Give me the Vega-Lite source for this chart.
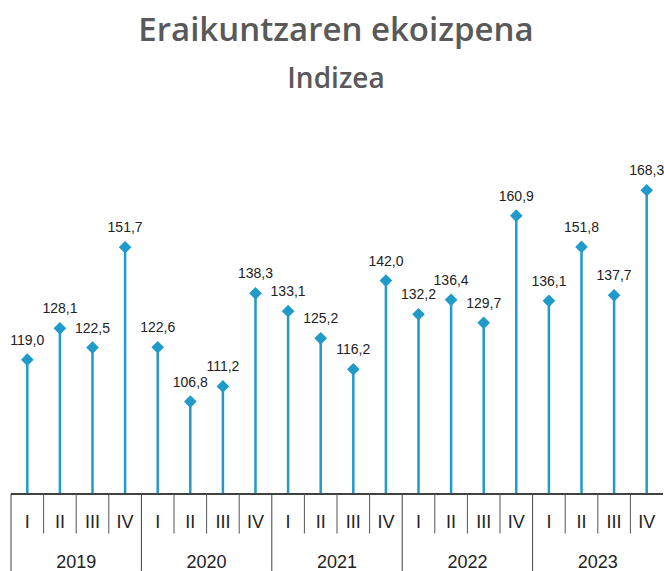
{
  "$schema": "https://vega.github.io/schema/vega-lite/v6.json",
  "width": 652,
  "height": 421,
  "autosize": {"type": "none"},
  "padding": {"left": 11, "top": 150, "right": 1, "bottom": 0},
  "config": {
    "view": {"stroke": null},
    "locale": {"number": {"decimal": ",", "thousands": ".", "grouping": [3], "currency": ["", " €"]}}
  },
  "title": {
    "text": "Eraikuntzaren ekoizpena",
    "subtitle": "Indizea",
    "anchor": "middle",
    "frame": "group",
    "font": "Open Sans",
    "fontSize": 33,
    "fontWeight": 600,
    "color": "#595959",
    "subtitleFont": "Open Sans",
    "subtitleFontSize": 28,
    "subtitleFontWeight": 600,
    "subtitleColor": "#595959",
    "subtitlePadding": 18,
    "offset": 56,
    "dx": -1
  },
  "data": {
    "values": [
      {"i": 0, "year": "2019", "q": "I", "value": 119.0},
      {"i": 1, "year": "2019", "q": "II", "value": 128.1},
      {"i": 2, "year": "2019", "q": "III", "value": 122.5},
      {"i": 3, "year": "2019", "q": "IV", "value": 151.7},
      {"i": 4, "year": "2020", "q": "I", "value": 122.6},
      {"i": 5, "year": "2020", "q": "II", "value": 106.8},
      {"i": 6, "year": "2020", "q": "III", "value": 111.2},
      {"i": 7, "year": "2020", "q": "IV", "value": 138.3},
      {"i": 8, "year": "2021", "q": "I", "value": 133.1},
      {"i": 9, "year": "2021", "q": "II", "value": 125.2},
      {"i": 10, "year": "2021", "q": "III", "value": 116.2},
      {"i": 11, "year": "2021", "q": "IV", "value": 142.0},
      {"i": 12, "year": "2022", "q": "I", "value": 132.2},
      {"i": 13, "year": "2022", "q": "II", "value": 136.4},
      {"i": 14, "year": "2022", "q": "III", "value": 129.7},
      {"i": 15, "year": "2022", "q": "IV", "value": 160.9},
      {"i": 16, "year": "2023", "q": "I", "value": 136.1},
      {"i": 17, "year": "2023", "q": "II", "value": 151.8},
      {"i": 18, "year": "2023", "q": "III", "value": 137.7},
      {"i": 19, "year": "2023", "q": "IV", "value": 168.3}
    ]
  },
  "layer": [
    {
      "mark": {"type": "rule", "color": "#1f9ac9", "strokeWidth": 2.5},
      "encoding": {
        "x": {"field": "i", "type": "ordinal", "scale": {"type": "band", "paddingInner": 0, "paddingOuter": 0}, "axis": null},
        "y": {"field": "value", "type": "quantitative", "scale": {"domain": [57.5, 180], "nice": false, "zero": false}, "axis": null},
        "y2": {"datum": 80}
      }
    },
    {
      "mark": {"type": "point", "shape": "diamond", "filled": true, "size": 160, "color": "#1f9ac9", "opacity": 1},
      "encoding": {
        "x": {"field": "i", "type": "ordinal"},
        "y": {"field": "value", "type": "quantitative"}
      }
    },
    {
      "mark": {"type": "text", "font": "Liberation Sans", "fontSize": 14, "color": "#222222", "baseline": "alphabetic", "dy": -15},
      "encoding": {
        "x": {"field": "i", "type": "ordinal"},
        "y": {"field": "value", "type": "quantitative"},
        "text": {"field": "value", "type": "quantitative", "format": ".1f"}
      }
    },
    {
      "mark": {"type": "rule", "color": "#404040", "strokeWidth": 1},
      "encoding": {
        "y": {"datum": 80, "type": "quantitative"}
      }
    },
    {
      "transform": [{"filter": "datum.q != 'I'"}],
      "mark": {"type": "rule", "color": "#555555", "strokeWidth": 1},
      "encoding": {
        "x": {"field": "i", "type": "ordinal", "bandPosition": 0},
        "y": {"datum": 80, "type": "quantitative"},
        "y2": {"datum": 68.4}
      }
    },
    {
      "transform": [{"filter": "datum.q == 'I'"}],
      "mark": {"type": "rule", "color": "#404040", "strokeWidth": 1},
      "encoding": {
        "x": {"field": "i", "type": "ordinal", "bandPosition": 0},
        "y": {"datum": 80, "type": "quantitative"},
        "y2": {"datum": 57.5}
      }
    },
    {
      "mark": {"type": "text", "font": "Liberation Sans", "fontSize": 18, "color": "#222222", "baseline": "alphabetic"},
      "encoding": {
        "x": {"field": "i", "type": "ordinal"},
        "y": {"datum": 70.1, "type": "quantitative"},
        "text": {"field": "q", "type": "nominal"}
      }
    },
    {
      "transform": [{"filter": "datum.q == 'II'"}],
      "mark": {"type": "text", "font": "Liberation Sans", "fontSize": 18, "color": "#222222", "baseline": "alphabetic"},
      "encoding": {
        "x": {"field": "i", "type": "ordinal", "bandPosition": 1},
        "y": {"datum": 58.3, "type": "quantitative"},
        "text": {"field": "year", "type": "nominal"}
      }
    }
  ]
}
